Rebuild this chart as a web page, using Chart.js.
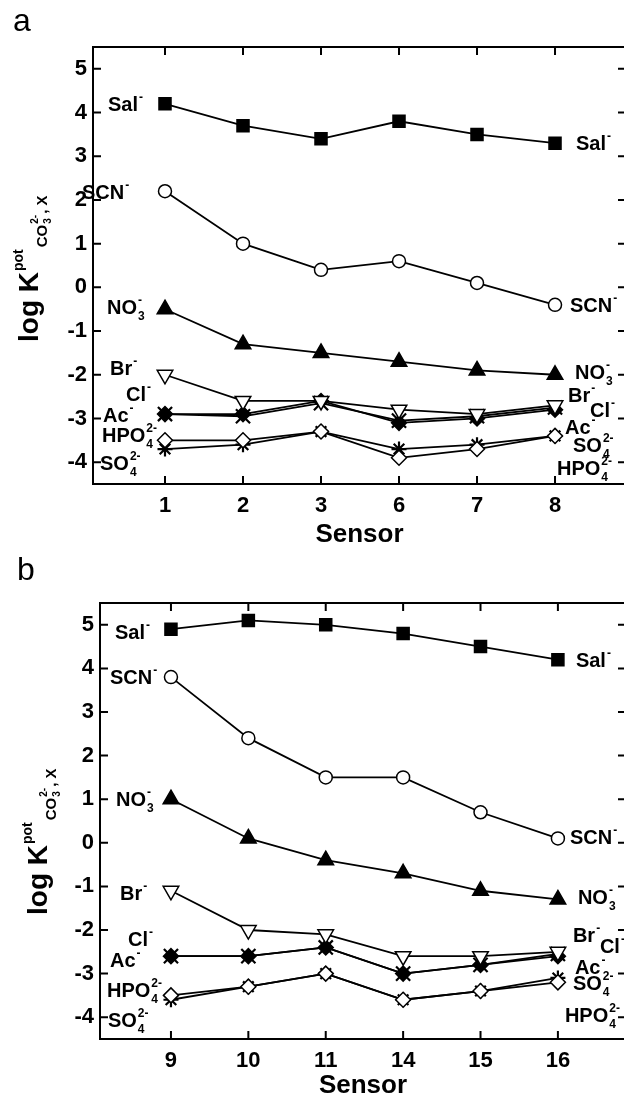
<!DOCTYPE html>
<html>
<head>
<meta charset="utf-8">
<script src="https://cdn.jsdelivr.net/npm/chart.js@4.4.0/dist/chart.umd.min.js"></script>
<style>
html, body { margin:0; padding:0; background:#fff; overflow:hidden; width:624px; height:1101px; }
.panel { position:absolute; left:0; }
.tag { position:absolute; font:32px "Liberation Sans", Arial, sans-serif; line-height:32px; color:#000; pointer-events:none; }
</style>
</head>
<body>
<div class="panel" style="top:0"><canvas id="cha" width="630" height="555"></canvas></div>
<div class="panel" style="top:560px"><canvas id="chb" width="630" height="541"></canvas></div>
<div class="tag" style="left:13px;top:4px">a</div>
<div class="tag" style="left:17px;top:553px">b</div>
<script>
// sensors of panel a and b (x axis)
var sensorsA = ['1', '2', '3', '6', '7', '8'];
var sensorsB = ['9', '10', '11', '14', '15', '16'];
var yTicks = [-4, -3, -2, -1, 0, 1, 2, 3, 4, 5];

// log K values, panel a
var salA = [4.2, 3.7, 3.4, 3.8, 3.5, 3.3];
var scnA = [2.2, 1.0, 0.4, 0.6, 0.1, -0.4];
var no3A = [-0.5, -1.3, -1.5, -1.7, -1.9, -2.0];
var brA  = [-2.0, -2.6, -2.6, -2.8, -2.9, -2.7];
var clA  = [-2.9, -2.95, -2.65, -3.05, -2.95, -2.75];
var acA  = [-2.9, -2.9, -2.6, -3.1, -3.0, -2.8];
var hpoA = [-3.5, -3.5, -3.3, -3.9, -3.7, -3.4];
var so4A = [-3.7, -3.6, -3.3, -3.7, -3.6, -3.4];

// log K values, panel b
var salB = [4.9, 5.1, 5.0, 4.8, 4.5, 4.2];
var scnB = [3.8, 2.4, 1.5, 1.5, 0.7, 0.1];
var no3B = [1.0, 0.1, -0.4, -0.7, -1.1, -1.3];
var brB  = [-1.1, -2.0, -2.1, -2.6, -2.6, -2.5];
var clB  = [-2.6, -2.6, -2.4, -3.0, -2.8, -2.55];
var acB  = [-2.6, -2.6, -2.4, -3.0, -2.8, -2.6];
var hpoB = [-3.5, -3.3, -3.0, -3.6, -3.4, -3.2];
var so4B = [-3.6, -3.3, -3.0, -3.6, -3.4, -3.1];

var FAM = '"Liberation Sans", Arial, sans-serif';
var ions = ['sal', 'scn', 'no3', 'br', 'cl', 'ac', 'hpo', 'so4'];

// marker per ion
var ionStyle = {
  sal: { ps: 'rect', r: 8.5, bg: '#000', rot: 0 },
  scn: { ps: 'circle', r: 6.5, bg: '#fff', rot: 0 },
  no3: { ps: 'triangle', r: 9, bg: '#000', rot: 0 },
  br:  { ps: 'triangle', r: 9, bg: '#fff', rot: 180 },
  cl:  { ps: 'crossRot', r: 10, bg: '#000', rot: 0 },
  ac:  { ps: 'rectRot', r: 7.5, bg: '#000', rot: 0 },
  hpo: { ps: 'rectRot', r: 7.5, bg: '#fff', rot: 0 },
  so4: { ps: 'star', r: 7.5, bg: '#000', rot: 0 }
};

// label text (sub / sup parts)
var ionText = {
  sal: ['Sal', { sup: '-' }],
  scn: ['SCN', { sup: '-' }],
  no3: ['NO', { sub: '3', sup: '-' }],
  br:  ['Br', { sup: '-' }],
  cl:  ['Cl', { sup: '-' }],
  ac:  ['Ac', { sup: '-' }],
  hpo: ['HPO', { sub: '4', sup: '2-' }],
  so4: ['SO', { sub: '4', sup: '2-' }]
};

// where the labels sit, offset from first (0) / last (1) point
var labelsA = [
  ['sal', 0, -57, 0], ['scn', 0, -83, 1], ['no3', 0, -58, -2], ['br', 0, -55, -7],
  ['cl', 0, -39, -20], ['ac', 0, -62, 1], ['hpo', 0, -63, -5], ['so4', 0, -65, 14],
  ['sal', 1, 21, 0], ['scn', 1, 15, 0], ['no3', 1, 20, -3], ['br', 1, 13, -10],
  ['cl', 1, 35, 2], ['ac', 1, 10, 17], ['so4', 1, 18, 9], ['hpo', 1, 2, 32]
];
var labelsB = [
  ['sal', 0, -56, 3], ['scn', 0, -61, 0], ['no3', 0, -55, 0], ['br', 0, -51, 2],
  ['cl', 0, -43, -17], ['ac', 0, -61, 4], ['hpo', 0, -64, -5], ['so4', 0, -63, 20],
  ['sal', 1, 18, 0], ['scn', 1, 12, -1], ['no3', 1, 20, -2], ['br', 1, 15, -17],
  ['cl', 1, 42, -8], ['ac', 1, 17, 11], ['so4', 1, 15, 5], ['hpo', 1, 7, 33]
];

function drawRich(ctx, x, y, parts) {
  var base = y + 7;
  parts.forEach(function(p) {
    if (typeof p === 'string') {
      ctx.font = 'bold 20px ' + FAM;
      ctx.fillText(p, x, base);
      x += ctx.measureText(p).width;
    } else {
      ctx.font = 'bold 12px ' + FAM;
      var w = 0;
      if (p.sub) { ctx.fillText(p.sub, x + 1, base + 6); w = Math.max(w, ctx.measureText(p.sub).width + 1); }
      if (p.sup) { ctx.fillText(p.sup, x + 1, base - 10); w = Math.max(w, ctx.measureText(p.sup).width + 1); }
      x += w;
    }
  });
}

// y title: log K^pot_(CO3^2-, X), rotated
function drawYTitle(ctx, x, y) {
  ctx.save();
  ctx.translate(x, y);
  ctx.rotate(-Math.PI / 2);
  ctx.textAlign = 'left';
  ctx.font = 'bold 28px ' + FAM;
  ctx.fillText('log K', 0, 0);
  var cx = ctx.measureText('log K').width + 1;
  ctx.font = 'bold 14px ' + FAM;
  ctx.fillText('pot', cx, -15);
  cx += ctx.measureText('pot').width + 2;
  ctx.font = 'bold 15px ' + FAM;
  ctx.fillText('CO', cx, 9);
  cx += ctx.measureText('CO').width + 1;
  ctx.font = 'bold 10px ' + FAM;
  ctx.fillText('3', cx, 13);
  ctx.fillText('2-', cx, 0);
  cx += ctx.measureText('2-').width + 1;
  ctx.font = 'bold 15px ' + FAM;
  ctx.fillText(', X', cx, 9);
  ctx.restore();
}

var framePlugin = {
  id: 'frame',
  afterDraw: function(chart) {
    var o = chart.options.plugins.frame;
    var ctx = chart.ctx, a = chart.chartArea;
    var xs = chart.scales.x, ys = chart.scales.y;
    ctx.save();
    ctx.strokeStyle = '#000';
    ctx.lineWidth = 2;
    ctx.strokeRect(a.left, a.top, a.right - a.left, a.bottom - a.top);
    ctx.beginPath();
    xs.ticks.forEach(function(t) {
      var px = xs.getPixelForValue(t.value);
      ctx.moveTo(px, a.top); ctx.lineTo(px, a.top + 8);
      ctx.moveTo(px, a.bottom); ctx.lineTo(px, a.bottom - 8);
    });
    ys.ticks.forEach(function(t) {
      var py = ys.getPixelForValue(t.value);
      ctx.moveTo(a.left, py); ctx.lineTo(a.left + 8, py);
      ctx.moveTo(a.right, py); ctx.lineTo(a.right - 8, py);
    });
    ctx.stroke();

    ctx.fillStyle = '#000';
    ctx.textAlign = 'left';
    o.labels.forEach(function(l) {
      var vals = o.series[l[0]];
      var i = l[1] ? vals.length - 1 : 0;
      var px = xs.getPixelForValue(i) + l[2];
      var py = ys.getPixelForValue(vals[i]) + l[3];
      drawRich(ctx, px, py, ionText[l[0]]);
    });

    ctx.font = 'bold 26px ' + FAM;
    ctx.textAlign = 'center';
    ctx.textBaseline = 'middle';
    ctx.fillText('Sensor', (a.left + a.right) / 2, o.sensorY);
    ctx.textBaseline = 'alphabetic';
    drawYTitle(ctx, o.titleX, o.titleY);
    ctx.restore();
  }
};

function makeChart(id, sensors, series, labels, p) {
  var datasets = ions.map(function(k) {
    var s = ionStyle[k];
    return {
      label: k,
      data: series[k].map(function(v, i) { return { x: i, y: v }; }),
      borderColor: '#000',
      borderWidth: 1.8,
      pointStyle: s.ps,
      pointRadius: s.r,
      pointRotation: s.rot,
      pointBackgroundColor: s.bg,
      pointBorderColor: '#000',
      pointBorderWidth: (k === 'cl' || k === 'so4') ? 2.2 : 1.5,
      tension: 0
    };
  });
  return new Chart(document.getElementById(id), {
    type: 'line',
    data: { datasets: datasets },
    plugins: [framePlugin],
    options: {
      responsive: false,
      animation: false,
      events: [],
      layout: { autoPadding: false, padding: { top: p.top, right: 4, left: 0, bottom: 0 } },
      plugins: {
        legend: { display: false },
        tooltip: { enabled: false },
        frame: { labels: labels, series: series, sensorY: p.sensorY, titleX: p.titleX, titleY: p.titleY }
      },
      scales: {
        x: {
          type: 'linear', min: p.xmin, max: p.xmax,
          grid: { display: false, drawTicks: false }, border: { display: false },
          afterBuildTicks: function(s) { s.ticks = sensors.map(function(_, i) { return { value: i }; }); },
          afterFit: function(s) { s.height = p.xh; },
          ticks: {
            padding: 9, color: '#000', font: { family: FAM, size: 22, weight: 'bold' },
            callback: function(v) { return sensors[v]; }
          }
        },
        y: {
          min: -4.5, max: 5.5,
          grid: { display: false, drawTicks: false }, border: { display: false },
          afterBuildTicks: function(s) { s.ticks = yTicks.map(function(v) { return { value: v }; }); },
          afterFit: function(s) { s.width = p.left; },
          ticks: { padding: 6, color: '#000', font: { family: FAM, size: 22, weight: 'bold' } }
        }
      }
    }
  });
}

makeChart('cha', sensorsA,
  { sal: salA, scn: scnA, no3: no3A, br: brA, cl: clA, ac: acA, hpo: hpoA, so4: so4A },
  labelsA,
  { top: 47, left: 93, xh: 71, xmin: -0.923, xmax: 5.91, sensorY: 535, titleX: 38, titleY: 342 });

makeChart('chb', sensorsB,
  { sal: salB, scn: scnB, no3: no3B, br: brB, cl: clB, ac: acB, hpo: hpoB, so4: so4B },
  labelsB,
  { top: 43, left: 100, xh: 62, xmin: -0.917, xmax: 5.88, sensorY: 526, titleX: 47, titleY: 355 });
</script>
</body>
</html>
